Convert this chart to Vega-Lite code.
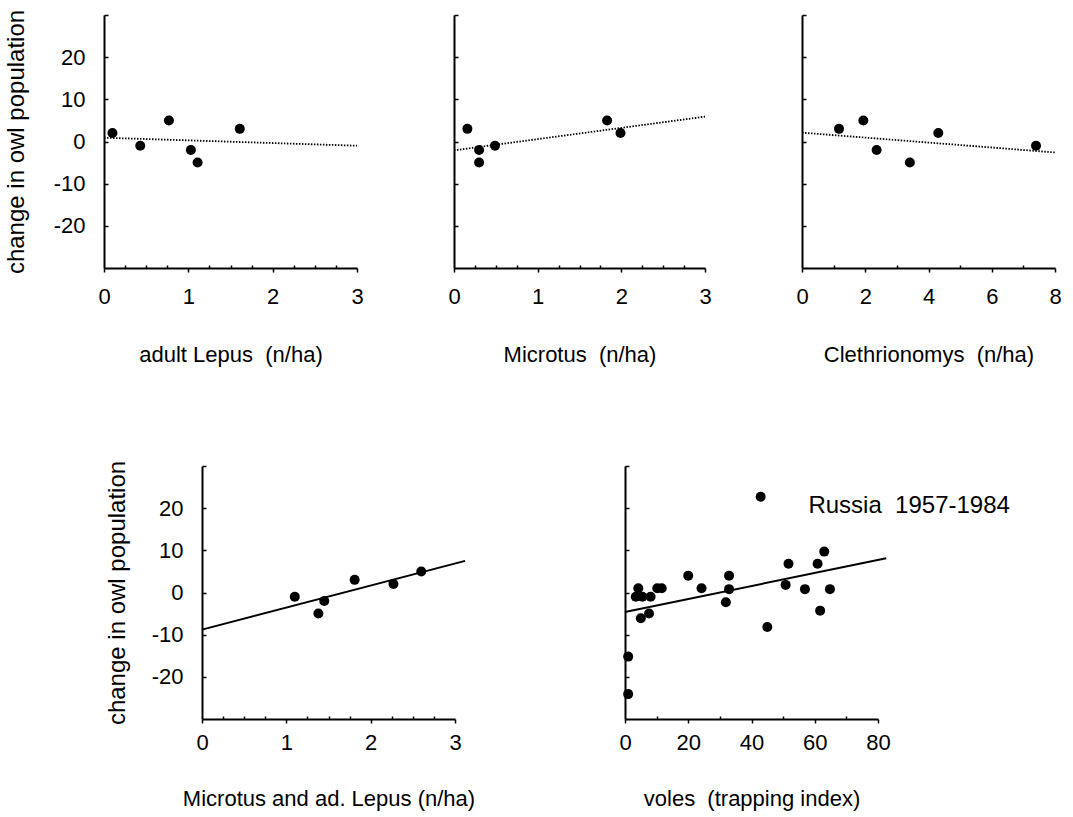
{
  "$schema": "https://vega.github.io/schema/vega-lite/v6.json",
  "padding": {"left": 4, "top": 4, "right": 5, "bottom": 2},
  "background": "white",
  "config": {
    "font": "Liberation Sans",
    "view": {"stroke": null},
    "axis": {"grid": false, "domainColor": "black", "domainWidth": 2, "tickColor": "black", "tickWidth": 1.5, "labelColor": "black", "titleColor": "black", "labelFontSize": 22, "titleFontSize": 22, "titleFontWeight": "normal", "labelFont": "Liberation Sans", "titleFont": "Liberation Sans", "labelFlush": false, "labelOverlap": false},
    "axisY": {"titleFontSize": 24}
  },
  "datasets": {
    "pts": [
      {"panel": "A", "x": 0.1, "y": 2}, {"panel": "A", "x": 0.43, "y": -1}, {"panel": "A", "x": 0.77, "y": 5}, {"panel": "A", "x": 1.03, "y": -2}, {"panel": "A", "x": 1.11, "y": -5}, {"panel": "A", "x": 1.61, "y": 3},
      {"panel": "B", "x": 0.16, "y": 3}, {"panel": "B", "x": 0.3, "y": -2}, {"panel": "B", "x": 0.3, "y": -5}, {"panel": "B", "x": 0.49, "y": -1}, {"panel": "B", "x": 1.83, "y": 5}, {"panel": "B", "x": 1.99, "y": 2},
      {"panel": "C", "x": 1.17, "y": 3}, {"panel": "C", "x": 1.94, "y": 5}, {"panel": "C", "x": 2.36, "y": -2}, {"panel": "C", "x": 3.41, "y": -5}, {"panel": "C", "x": 4.31, "y": 2}, {"panel": "C", "x": 7.4, "y": -1},
      {"panel": "D", "x": 1.1, "y": -1}, {"panel": "D", "x": 1.38, "y": -5}, {"panel": "D", "x": 1.45, "y": -2}, {"panel": "D", "x": 1.81, "y": 3}, {"panel": "D", "x": 2.27, "y": 2}, {"panel": "D", "x": 2.6, "y": 5},
      {"panel": "E", "x": 1, "y": -15.2}, {"panel": "E", "x": 1, "y": -24.1}, {"panel": "E", "x": 4.2, "y": 1}, {"panel": "E", "x": 3.4, "y": -1}, {"panel": "E", "x": 5.5, "y": -1}, {"panel": "E", "x": 8.1, "y": -1}, {"panel": "E", "x": 10.2, "y": 1}, {"panel": "E", "x": 11.6, "y": 1}, {"panel": "E", "x": 5, "y": -6.1}, {"panel": "E", "x": 7.6, "y": -5}, {"panel": "E", "x": 20, "y": 4}, {"panel": "E", "x": 24.2, "y": 1}, {"panel": "E", "x": 31.9, "y": -2.3}, {"panel": "E", "x": 32.9, "y": 4}, {"panel": "E", "x": 32.9, "y": 0.8}, {"panel": "E", "x": 42.9, "y": 22.7}, {"panel": "E", "x": 45, "y": -8.2}, {"panel": "E", "x": 50.8, "y": 1.8}, {"panel": "E", "x": 51.7, "y": 6.8}, {"panel": "E", "x": 56.9, "y": 0.8}, {"panel": "E", "x": 60.9, "y": 6.8}, {"panel": "E", "x": 63, "y": 9.7}, {"panel": "E", "x": 61.7, "y": -4.3}, {"panel": "E", "x": 64.8, "y": 0.8}
    ],
    "fits": [
      {"panel": "A", "x": 0, "y": 0.9}, {"panel": "A", "x": 3, "y": -1.0},
      {"panel": "B", "x": 0, "y": -2.1}, {"panel": "B", "x": 3, "y": 5.9},
      {"panel": "C", "x": 0, "y": 2.1}, {"panel": "C", "x": 8, "y": -2.6},
      {"panel": "D", "x": 0, "y": -8.8}, {"panel": "D", "x": 3.12, "y": 7.5},
      {"panel": "E", "x": 0, "y": -4.6}, {"panel": "E", "x": 82.6, "y": 8.1}
    ],
    "notes": [
      {"panel": "E", "x": 58, "y": 20.4, "label": "Russia\u00a0 1957-1984"}
    ]
  },
  "spacing": 90,
  "vconcat": [
    {
      "spacing": 83,
      "hconcat": [
        {
          "width": 253, "height": 253,
          "encoding": {
            "x": {"field": "x", "type": "quantitative", "title": "adult Lepus\u00a0 (n/ha)", "scale": {"domain": [0, 3], "nice": false, "zero": false},
              "axis": {"values": [0, 0.25, 0.5, 0.75, 1, 1.25, 1.5, 1.75, 2, 2.25, 2.5, 2.75, 3], "labelExpr": "datum.value % 1 === 0 ? '' + datum.value : ''", "tickSize": {"condition": {"test": "datum.value % 1 === 0", "value": 4}, "value": -3}, "labelPadding": 14, "titlePadding": 37}},
            "y": {"field": "y", "type": "quantitative", "title": "change in owl population", "scale": {"domain": [-30, 30], "nice": false},
              "axis": {"values": [-20, -10, 0, 10, 20, 30], "labelExpr": "datum.value === 30 ? '' : '' + datum.value", "tickSize": -4, "labelPadding": 23, "titlePadding": 25}}
          },
          "layer": [
            {"data": {"name": "fits"}, "transform": [{"filter": "datum.panel === 'A'"}], "mark": {"type": "line", "color": "black", "strokeWidth": 1.8, "strokeDash": [1.5, 1.5]}},
            {"data": {"name": "pts"}, "transform": [{"filter": "datum.panel === 'A'"}], "mark": {"type": "circle", "color": "black", "opacity": 1, "size": 100}}
          ]
        },
        {
          "width": 251, "height": 253,
          "encoding": {
            "x": {"field": "x", "type": "quantitative", "title": "Microtus\u00a0 (n/ha)", "scale": {"domain": [0, 3], "nice": false, "zero": false},
              "axis": {"values": [0, 0.25, 0.5, 0.75, 1, 1.25, 1.5, 1.75, 2, 2.25, 2.5, 2.75, 3], "labelExpr": "datum.value % 1 === 0 ? '' + datum.value : ''", "tickSize": {"condition": {"test": "datum.value % 1 === 0", "value": 4}, "value": -3}, "labelPadding": 14, "titlePadding": 37}},
            "y": {"field": "y", "type": "quantitative", "title": null, "scale": {"domain": [-30, 30], "nice": false},
              "axis": {"values": [-20, -10, 0, 10, 20, 30], "labels": false, "tickSize": -4}}
          },
          "layer": [
            {"data": {"name": "fits"}, "transform": [{"filter": "datum.panel === 'B'"}], "mark": {"type": "line", "color": "black", "strokeWidth": 1.8, "strokeDash": [1.5, 1.5]}},
            {"data": {"name": "pts"}, "transform": [{"filter": "datum.panel === 'B'"}], "mark": {"type": "circle", "color": "black", "opacity": 1, "size": 100}}
          ]
        },
        {
          "width": 253, "height": 253,
          "encoding": {
            "x": {"field": "x", "type": "quantitative", "title": "Clethrionomys\u00a0 (n/ha)", "scale": {"domain": [0, 8], "nice": false, "zero": false},
              "axis": {"values": [0, 1, 2, 3, 4, 5, 6, 7, 8], "labelExpr": "datum.value % 2 === 0 ? '' + datum.value : ''", "tickSize": {"condition": {"test": "datum.value % 2 === 0", "value": 4}, "value": -3}, "labelPadding": 14, "titlePadding": 37}},
            "y": {"field": "y", "type": "quantitative", "title": null, "scale": {"domain": [-30, 30], "nice": false},
              "axis": {"values": [-20, -10, 0, 10, 20, 30], "labels": false, "tickSize": -4}}
          },
          "layer": [
            {"data": {"name": "fits"}, "transform": [{"filter": "datum.panel === 'C'"}], "mark": {"type": "line", "color": "black", "strokeWidth": 1.8, "strokeDash": [1.5, 1.5]}},
            {"data": {"name": "pts"}, "transform": [{"filter": "datum.panel === 'C'"}], "mark": {"type": "circle", "color": "black", "opacity": 1, "size": 100}}
          ]
        }
      ]
    },
    {
      "spacing": 0,
      "hconcat": [
        {"width": 1, "height": 10, "data": {"values": []}, "mark": "point", "encoding": {}},
        {
          "width": 253, "height": 253,
          "encoding": {
            "x": {"field": "x", "type": "quantitative", "title": "Microtus and ad. Lepus (n/ha)", "scale": {"domain": [0, 3], "nice": false, "zero": false},
              "axis": {"values": [0, 0.25, 0.5, 0.75, 1, 1.25, 1.5, 1.75, 2, 2.25, 2.5, 2.75, 3], "labelExpr": "datum.value % 1 === 0 ? '' + datum.value : ''", "tickSize": {"condition": {"test": "datum.value % 1 === 0", "value": 4}, "value": -3}, "labelPadding": 9, "titlePadding": 35}},
            "y": {"field": "y", "type": "quantitative", "title": "change in owl population", "scale": {"domain": [-30, 30], "nice": false},
              "axis": {"values": [-20, -10, 0, 10, 20, 30], "labelExpr": "datum.value === 30 ? '' : '' + datum.value", "tickSize": -4, "labelPadding": 23, "titlePadding": 22}}
          },
          "layer": [
            {"data": {"name": "fits"}, "transform": [{"filter": "datum.panel === 'D'"}], "mark": {"type": "line", "color": "black", "strokeWidth": 2}},
            {"data": {"name": "pts"}, "transform": [{"filter": "datum.panel === 'D'"}], "mark": {"type": "circle", "color": "black", "opacity": 1, "size": 100}}
          ]
        },
        {"width": 143, "height": 10, "data": {"values": []}, "mark": "point", "encoding": {}},
        {
          "width": 253, "height": 253,
          "encoding": {
            "x": {"field": "x", "type": "quantitative", "title": "voles\u00a0 (trapping index)", "scale": {"domain": [0, 80], "nice": false, "zero": false},
              "axis": {"values": [0, 10, 20, 30, 40, 50, 60, 70, 80], "labelExpr": "datum.value % 20 === 0 ? '' + datum.value : ''", "tickSize": {"condition": {"test": "datum.value % 20 === 0", "value": 4}, "value": -3}, "labelPadding": 9, "titlePadding": 35}},
            "y": {"field": "y", "type": "quantitative", "title": null, "scale": {"domain": [-30, 30], "nice": false},
              "axis": {"values": [-20, -10, 0, 10, 20, 30], "labels": false, "tickSize": -4}}
          },
          "layer": [
            {"data": {"name": "fits"}, "transform": [{"filter": "datum.panel === 'E'"}], "mark": {"type": "line", "color": "black", "strokeWidth": 2}},
            {"data": {"name": "pts"}, "transform": [{"filter": "datum.panel === 'E'"}], "mark": {"type": "circle", "color": "black", "opacity": 1, "size": 100}},
            {"data": {"name": "notes"}, "mark": {"type": "text", "align": "left", "baseline": "middle", "fontSize": 24, "font": "Liberation Sans", "color": "black"}, "encoding": {"text": {"field": "label"}}}
          ]
        }
      ]
    }
  ]
}
